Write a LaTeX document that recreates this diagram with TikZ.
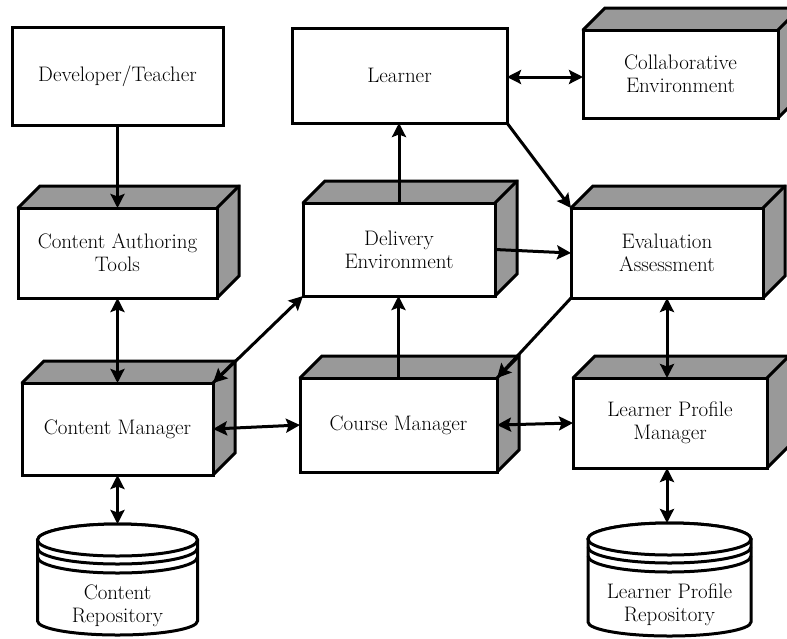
\documentclass[tikz,border=0pt]{standalone}
\usetikzlibrary{arrows.meta,calc,backgrounds}
\begin{document}
\begin{tikzpicture}[x=1pt,y=-1pt,
  >={Stealth[length=14pt,width=14pt,inset=2.5pt]},
  box/.style={draw,fill=white,line width=3pt,outer sep=0pt,inner sep=2pt,
    align=center,font=\fontsize{21}{23}\selectfont},
  face/.style={fill=black!40},
  edge/.style={line width=3pt,line join=miter,line cap=round},
  link/.style={line width=3pt},
  drum/.style={line width=3pt,fill=white},
  drumtext/.style={align=center,inner sep=0pt,font=\fontsize{21}{23}\selectfont}]
\useasboundingbox (0,0) rectangle (787,638);

% plain boxes
\node[box,minimum width=211pt,minimum height=98pt] (dev) at (117.5,76) {Developer/Teacher};
\node[box,minimum width=215pt,minimum height=95pt] (learner) at (399.5,75.5) {Learner};

% boxes with depth
\node[box,minimum width=195pt,minimum height=88pt] (coll) at (680.5,74) {Collaborative\\Environment};
\node[box,minimum width=199pt,minimum height=90pt] (cat) at (117.5,253) {Content Authoring\\Tools};
\node[box,minimum width=192pt,minimum height=93pt] (dele) at (399,249.5) {Delivery\\Environment};
\node[box,minimum width=192pt,minimum height=90pt] (eval) at (667,253) {Evaluation\\Assessment};
\node[box,minimum width=191pt,minimum height=92pt] (cmgr) at (117.5,429) {Content Manager};
\node[box,minimum width=197pt,minimum height=94pt] (crsm) at (398.5,425) {Course Manager};
\node[box,minimum width=194pt,minimum height=90pt] (lpm) at (670,423) {Learner Profile\\Manager};

% top and side faces behind the front faces
\begin{scope}[on background layer]
  \foreach \n in {coll,cat,dele,eval,cmgr,crsm,lpm} {
    \fill[face] (\n.north west) -- ++(22,-22) -- ($(\n.north east)+(22,-22)$)
      -- ($(\n.south east)+(22,-22)$) -- (\n.south east) -- (\n.north east) -- cycle;
    \draw[edge] (\n.north west) -- ++(22,-22) -- ($(\n.north east)+(22,-22)$)
      -- ($(\n.south east)+(22,-22)$) -- (\n.south east);
    \draw[edge] (\n.north east) -- ++(22,-22);
  }
\end{scope}

% content repository
\filldraw[drum] (37.5,540) -- (37.5,621) arc[start angle=180,end angle=360,x radius=80pt,y radius=14pt]
  -- (197.5,540) arc[start angle=0,end angle=180,x radius=80pt,y radius=16pt] -- cycle;
\draw[drum] (117.5,540) ellipse[x radius=80pt,y radius=16pt];
\draw[line width=3pt] (37.5,548) arc[start angle=180,end angle=360,x radius=80pt,y radius=16pt];
\draw[line width=3pt] (37.5,557) arc[start angle=180,end angle=360,x radius=80pt,y radius=16pt];
\coordinate (crepo-top) at (117.5,524);
\node[drumtext] (crepo) at (117.5,606) {Content\\Repository};

% learner profile repository
\filldraw[drum] (588,539) -- (588,622) arc[start angle=180,end angle=360,x radius=81.5pt,y radius=14pt]
  -- (751,539) arc[start angle=0,end angle=180,x radius=81.5pt,y radius=16pt] -- cycle;
\draw[drum] (669.5,539) ellipse[x radius=81.5pt,y radius=16pt];
\draw[line width=3pt] (588,547) arc[start angle=180,end angle=360,x radius=81.5pt,y radius=16pt];
\draw[line width=3pt] (588,556) arc[start angle=180,end angle=360,x radius=81.5pt,y radius=16pt];
\coordinate (lpr-top) at (669.5,523);
\node[drumtext] (lpr) at (669.5,605) {Learner Profile\\Repository};

% connectors
\draw[link,->] (dev) -- (cat);
\draw[link,<->] (cat) -- (cmgr);
\draw[link,<->] (cmgr.south) -- (crepo-top);
\draw[link,<->] (cmgr.east) -- (crsm.west);
\draw[link,<->] (cmgr.north east) -- (dele.south west);
\draw[link,->] (crsm.north) -- (crsm.north |- dele.south);
\draw[link,->] (dele.north) -- (dele.north |- learner.south);
\draw[link,<->] ($(learner.east)+(0,1.5)$) -- ($(learner.east -| coll.west)+(0,1.5)$);
\draw[link,->] (learner.south east) -- (eval.north west);
\draw[link,->] (dele.east) -- (eval.west);
\draw[link,->] (eval.south west) -- (crsm.north east);
\draw[link,<->] (eval.south) -- (eval.south |- lpm.north);
\draw[link,<->] (crsm.east) -- (lpm.west);
\draw[link,<->] (lpm.south -| eval.south) -- (lpr-top -| eval.south);
\end{tikzpicture}
\end{document}
